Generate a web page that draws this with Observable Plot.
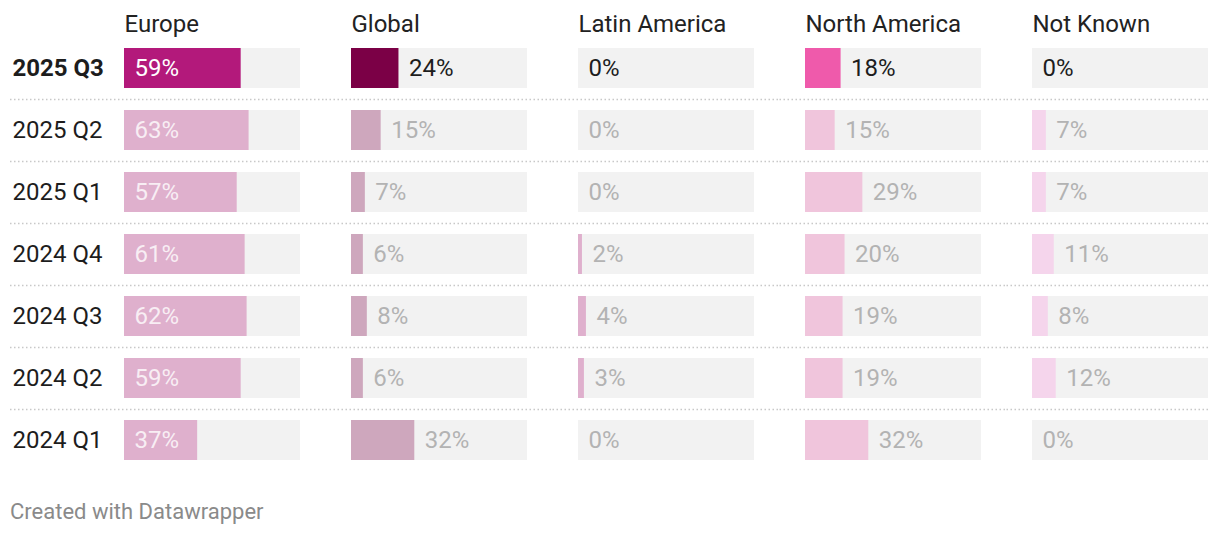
<!DOCTYPE html>
<html>
<head>
<meta charset="utf-8">
<script src="https://cdn.jsdelivr.net/npm/d3@7"></script>
<script src="https://cdn.jsdelivr.net/npm/@observablehq/plot@0.6"></script>
<style>
  html, body { margin: 0; padding: 0; background: #ffffff; }
  body { width: 1220px; height: 536px; overflow: hidden; font-family: Roboto, "Noto Sans", sans-serif; }
  #footer { padding-left: 10px; margin-top: 20px; font-size: 22px; line-height: 24px; color: #8a8a8a; }
</style>
</head>
<body>
<div id="chart"></div>
<div id="footer">Created with Datawrapper</div>
<script>
// ---- data ----
const quarters = ["2025 Q3", "2025 Q2", "2025 Q1", "2024 Q4", "2024 Q3", "2024 Q2", "2024 Q1"];
const regions = ["Europe", "Global", "Latin America", "North America", "Not Known"];
const europe = [59, 63, 57, 61, 62, 59, 37];
const global = [24, 15, 7, 6, 8, 6, 32];
const latinAmerica = [0, 0, 0, 2, 4, 3, 0];
const northAmerica = [18, 15, 29, 20, 19, 19, 32];
const notKnown = [0, 7, 7, 11, 8, 12, 0];
const highlightQuarter = "2025 Q3";
const scaleMax = 89;

// ---- styles ----
const highlightColors = ["#b3197b", "#7b0046", "#c41d88", "#ef5aab", "#f3a3d3"];
const paleColors = ["#dfb0cd", "#cea7bd", "#dfb0cd", "#f0c5dc", "#f5d5ec"];
const insideLabelRegions = ["Europe"];

const series = [europe, global, latinAmerica, northAmerica, notKnown];
const rows = [];
regions.forEach((region, i) => {
  quarters.forEach((quarter, j) => {
    rows.push({region, quarter, value: series[i][j], ri: i});
  });
});

const isHi = d => d.quarter === highlightQuarter;
const inside = d => insideLabelRegions.includes(d.region);
const barFill = d => isHi(d) ? highlightColors[d.ri] : paleColors[d.ri];
const labelFill = d => isHi(d)
  ? (inside(d) ? "#ffffff" : "#1d1d1d")
  : (inside(d) ? "#f8eef4" : "#b3b3b3");

const gridRows = [];
regions.forEach(region => quarters.slice(0, -1).forEach(quarter => gridRows.push({region, quarter})));

const ruleStyle = {stroke: "#c8c8c8", strokeWidth: 1.5, strokeDasharray: "1.5,2.5", dy: 31};
const firstRegion = regions[0];
const lastRegion = regions[regions.length - 1];

const chart = Plot.plot({
  width: 1220,
  height: 480,
  marginLeft: 124,
  marginRight: 12,
  marginTop: 37,
  marginBottom: 9,
  style: {fontFamily: "Roboto, sans-serif", background: "#ffffff"},
  fx: {domain: regions, paddingInner: 0.2247, paddingOuter: 0, axis: null, label: null},
  x: {domain: [0, scaleMax], axis: null},
  y: {domain: quarters, paddingInner: 0.355, paddingOuter: 0.1774, axis: null},
  color: {type: "identity"},
  marks: [
    // dotted separators
    Plot.ruleY(gridRows.filter(d => d.region === firstRegion), {fx: "region", y: "quarter", insetLeft: -114, insetRight: -25.5, ...ruleStyle}),
    Plot.ruleY(gridRows.filter(d => d.region !== firstRegion && d.region !== lastRegion), {fx: "region", y: "quarter", insetLeft: -25.5, insetRight: -25.5, ...ruleStyle}),
    Plot.ruleY(gridRows.filter(d => d.region === lastRegion), {fx: "region", y: "quarter", insetLeft: -25.5, insetRight: 0, ...ruleStyle}),
    // background bars
    Plot.barX(rows, {fx: "region", y: "quarter", x: () => scaleMax, fill: "#f2f2f2"}),
    // value bars
    Plot.barX(rows, {fx: "region", y: "quarter", x: "value", fill: barFill}),
    // value labels
    Plot.text(rows, {
      fx: "region", y: "quarter",
      x: d => inside(d) ? 0 : d.value,
      text: d => d.value + "%",
      dx: 10, textAnchor: "start", fontSize: 24,
      fill: labelFill
    }),
    // column headers
    Plot.text(regions, {fx: d => d, text: d => d, frameAnchor: "top-left", dy: -13, textAnchor: "start", lineAnchor: "middle", fontSize: 24, fill: "#222222"}),
    // row labels
    Plot.text(quarters.filter(q => q === highlightQuarter), {fx: () => firstRegion, y: d => d, text: d => d, frameAnchor: "left", dx: -112, textAnchor: "start", fontSize: 24, fontWeight: "bold", fill: "#1d1d1d"}),
    Plot.text(quarters.filter(q => q !== highlightQuarter), {fx: () => firstRegion, y: d => d, text: d => d, frameAnchor: "left", dx: -112, textAnchor: "start", fontSize: 24, fill: "#1d1d1d"})
  ]
});
document.getElementById("chart").appendChild(chart);
</script>
</body>
</html>
